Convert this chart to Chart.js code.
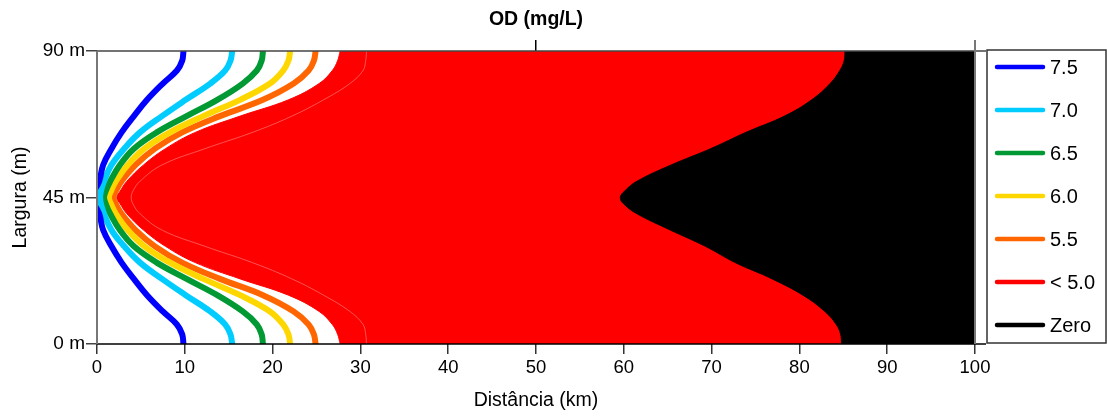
<!DOCTYPE html>
<html>
<head>
<meta charset="utf-8">
<script src="https://cdn.jsdelivr.net/npm/chart.js@4/dist/chart.umd.min.js"></script>
<style>
  body { margin: 0; background: #fff; }
  canvas { display: block; }
</style>
</head>
<body>
<canvas id="chart" width="1107" height="419"></canvas>
<script>
// largura do rio (m) - eixo comum a todas as isolinhas
const largura = [0, 3, 6, 10, 15, 20, 25, 30, 35, 40, 43, 45, 47, 50, 55, 60, 65, 70, 75, 80, 84, 87, 90];

// distância (km) em que o OD chega a cada nível, na ordem da largura
const od75 = [9.85, 9.7, 9.1, 7.5, 5.7, 4.2, 2.8, 1.65, 0.7, 0.25, -0.35, -0.8, -0.35, 0.25, 0.7, 1.65, 2.8, 4.2, 5.7, 7.5, 9.1, 9.7, 9.85];
const od70 = [15.4, 15.2, 14.6, 12.9, 10.1, 7.4, 4.9, 3.1, 1.65, 0.8, 0.45, 0.35, 0.45, 0.8, 1.65, 3.1, 4.9, 7.4, 10.1, 12.9, 14.6, 15.2, 15.4];
const od65 = [18.9, 18.75, 18.2, 16.6, 13.7, 10.2, 6.8, 4.2, 2.6, 1.5, 1.0, 0.8, 1.0, 1.5, 2.6, 4.2, 6.8, 10.2, 13.7, 16.6, 18.2, 18.75, 18.9];
const od60 = [22.0, 21.8, 21.2, 19.7, 16.3, 12.1, 8.3, 5.4, 3.5, 2.15, 1.6, 1.35, 1.6, 2.15, 3.5, 5.4, 8.3, 12.1, 16.3, 19.7, 21.2, 21.8, 22.0];
const od55 = [24.9, 24.7, 24.1, 22.4, 18.9, 14.0, 9.7, 6.6, 4.4, 2.8, 2.15, 1.85, 2.15, 2.8, 4.4, 6.6, 9.7, 14.0, 18.9, 22.4, 24.1, 24.7, 24.9];
const od50 = [27.7, 27.4, 26.8, 25.3, 21.8, 16.3, 11.2, 7.8, 5.3, 3.4, 2.65, 2.25, 2.65, 3.4, 5.3, 7.8, 11.2, 16.3, 21.8, 25.3, 26.8, 27.4, 27.7];
const odInterna = [30.7, 30.6, 30.3, 28.8, 25.8, 22.2, 17.7, 12.3, 7.4, 4.9, 4.1, 3.9, 4.1, 4.9, 7.4, 12.3, 17.7, 22.2, 25.8, 28.8, 30.3, 30.6, 30.7];
const odZero = [84.8, 84.7, 84.2, 82.9, 80.4, 76.9, 72.7, 69.3, 65.3, 61.5, 60.0, 59.6, 60.1, 61.5, 65.4, 69.9, 73.9, 78.3, 81.4, 83.5, 84.6, 85.1, 85.2];

const rotulos = ['7.5', '7.0', '6.5', '6.0', '5.5', '< 5.0', 'Zero'];
const cores = ['#0000ff', '#00ccff', '#009933', '#ffd700', '#ff6600', '#ff0000', '#000000'];
const ticksLargura = [0, 45, 90];
const ticksTopo = [50];
const distMax = 100;

const fonte = '"Liberation Sans", Arial, sans-serif';

function pontos(dist) {
    return largura.map((w, i) => ({ x: dist[i], y: w }));
}

let datasets = [];
[od75, od70, od65, od60, od55].forEach((d, i) => {
    datasets.push({
        label: rotulos[i],
        data: pontos(d),
        borderColor: cores[i],
        borderWidth: 6,
        borderCapStyle: 'round',
        borderJoinStyle: 'round',
        tension: 0.4,
        pointRadius: 0,
        fill: false
    });
});
// linha fina dentro da zona vermelha
datasets.push({
    label: 'interna',
    data: pontos(odInterna),
    borderColor: 'rgba(255, 235, 235, 0.35)',
    borderWidth: 1,
    tension: 0.4,
    pointRadius: 0,
    fill: false
});
// zonas preenchidas: da curva até o fim do trecho (100 km)
datasets.push({
    label: rotulos[6],
    data: pontos(odZero),
    borderColor: cores[6],
    backgroundColor: cores[6],
    borderWidth: 1,
    tension: 0.4,
    pointRadius: 0,
    fill: false,
    zona: true
});
datasets.push({
    label: rotulos[5],
    data: pontos(od50),
    borderColor: cores[5],
    backgroundColor: cores[5],
    borderWidth: 1,
    tension: 0.4,
    pointRadius: 0,
    fill: false,
    zona: true
});

// preenche a zona entre a curva e a borda direita do eixo x
const zonas = {
    id: 'zonas',
    beforeDatasetDraw(chart, args) {
        const ds = chart.data.datasets[args.index];
        if (!ds.zona) return;
        const meta = args.meta;
        const pts = meta.data;
        if (!pts.length) return;
        const { ctx, chartArea: a } = chart;
        const xFim = chart.scales.x.getPixelForValue(distMax);
        ctx.save();
        ctx.beginPath();
        ctx.rect(a.left, a.top, a.right - a.left, a.bottom - a.top);
        ctx.clip();
        ctx.beginPath();
        meta.dataset.path(ctx);
        ctx.lineTo(xFim, pts[pts.length - 1].y);
        ctx.lineTo(xFim, pts[0].y);
        ctx.closePath();
        ctx.fillStyle = ds.backgroundColor;
        ctx.fill();
        ctx.restore();
    }
};

// moldura do gráfico
const moldura = {
    id: 'moldura',
    afterDatasetsDraw(chart) {
        const { ctx, chartArea: a } = chart;
        ctx.save();
        ctx.lineCap = 'butt';
        ctx.strokeStyle = '#444';
        ctx.lineWidth = 1.5;
        ctx.beginPath(); ctx.moveTo(a.left, a.top); ctx.lineTo(986, a.top); ctx.stroke();
        ctx.strokeStyle = '#000';
        ctx.beginPath(); ctx.moveTo(a.left, a.bottom); ctx.lineTo(986, a.bottom); ctx.stroke();
        ctx.strokeStyle = '#777';
        ctx.lineWidth = 2;
        ctx.beginPath(); ctx.moveTo(a.left, a.top); ctx.lineTo(a.left, a.bottom); ctx.stroke();
        ctx.beginPath(); ctx.moveTo(a.right, a.top - 11); ctx.lineTo(a.right, a.bottom); ctx.stroke();
        ctx.restore();
    }
};

// legenda em caixa à direita
const legenda = {
    id: 'legenda',
    afterDraw(chart) {
        const ctx = chart.ctx;
        ctx.save();
        ctx.strokeStyle = '#333';
        ctx.lineWidth = 1.5;
        ctx.strokeRect(987, 50, 119, 293);
        ctx.font = '20px ' + fonte;
        ctx.textBaseline = 'middle';
        ctx.textAlign = 'left';
        rotulos.forEach((r, i) => {
            const y = 67 + i * 43;
            ctx.strokeStyle = cores[i];
            ctx.lineWidth = 4.5;
            ctx.lineCap = 'round';
            ctx.beginPath(); ctx.moveTo(997, y); ctx.lineTo(1043, y); ctx.stroke();
            ctx.fillStyle = '#000';
            ctx.fillText(r, 1050, y + 1);
        });
        ctx.restore();
    }
};

let ctx = document.getElementById('chart').getContext('2d');
let chart = new Chart(ctx, {
    type: 'line',
    data: { datasets: datasets },
    options: {
        responsive: false,
        animation: false,
        indexAxis: 'y',
        layout: { padding: { left: 0, right: 132, top: 0, bottom: 0 } },
        plugins: {
            legend: { display: false },
            tooltip: { enabled: false }
        },
        scales: {
            x: {
                type: 'linear',
                position: 'bottom',
                min: 0,
                max: distMax,
                afterFit: (s) => { s.height = 75; },
                ticks: {
                    stepSize: 10,
                    maxRotation: 0,
                    autoSkip: false,
                    padding: 3,
                    color: '#000',
                    font: { family: fonte, size: 18.5 }
                },
                grid: { drawOnChartArea: false, drawTicks: true, tickLength: 10, color: '#333', lineWidth: 1.5 },
                border: { display: false },
                title: {
                    display: true,
                    text: 'Distância (km)',
                    color: '#000',
                    font: { family: fonte, size: 19.5 },
                    padding: { top: 0, bottom: 7 }
                }
            },
            x2: {
                type: 'linear',
                position: 'top',
                min: 0,
                max: distMax,
                afterFit: (s) => { s.height = 51; },
                afterBuildTicks: (s) => { s.ticks = ticksTopo.map(v => ({ value: v })); },
                ticks: { display: false },
                grid: { drawOnChartArea: false, drawTicks: true, tickLength: 11, color: '#000', lineWidth: 1.5 },
                border: { display: false },
                title: {
                    display: true,
                    text: 'OD (mg/L)',
                    color: '#000',
                    font: { family: fonte, size: 19.5, weight: 'bold' },
                    padding: { top: 8, bottom: 0 }
                }
            },
            y: {
                type: 'linear',
                position: 'left',
                min: 0,
                max: 90,
                afterFit: (s) => { s.width = 97; },
                afterBuildTicks: (s) => { s.ticks = ticksLargura.map(v => ({ value: v })); },
                ticks: {
                    padding: 1,
                    color: '#000',
                    font: { family: fonte, size: 19 },
                    callback: (v) => v + ' m'
                },
                grid: { drawOnChartArea: false, drawTicks: true, tickLength: 11, color: '#444', lineWidth: 1.5 },
                border: { display: false },
                title: {
                    display: true,
                    text: 'Largura (m)',
                    color: '#000',
                    font: { family: fonte, size: 19.5 },
                    padding: { top: 9, bottom: 0 }
                }
            }
        }
    },
    plugins: [zonas, moldura, legenda]
});
</script>
</body>
</html>
